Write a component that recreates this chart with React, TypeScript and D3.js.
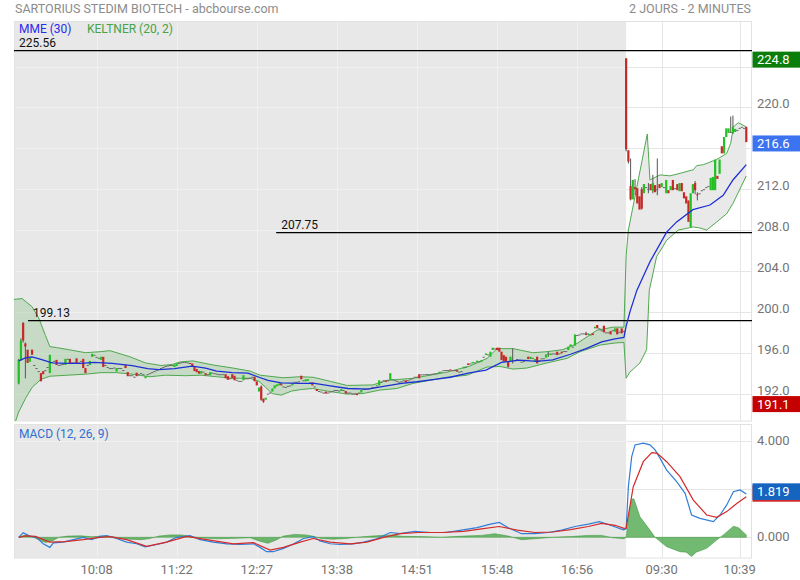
import React from "react";
import * as d3 from "d3";

type Bar = number | number[];

// Day 1 candles: number = doji (o=h=l=c), [o,c] = body only, [o,c,h,l] = body with wicks
const DAY1: Bar[] = [
  [193.0,195.3,195.4,192.9],[195.3,197.2,197.4,195.2],[198.9,197.2,199.0,197.0],[196.9,196.6,197.0,193.5],[196.3,195.0],[195.1,195.6],[196.3,195.8],194.8,194.5,194.2,
  [194.0,193.2],[194.2,193.9],194.3,194.6,[194.0,195.8],195.1,195.2,[195.3,194.8],194.8,194.85,
  194.9,[194.8,195.4],195.4,[195.4,195.0],195.05,195.05,[195.45,195.0],195.05,195.2,[195.4,194.5],
  [194.5,194.0],194.8,[194.8,195.2],[195.6,195.9],195.8,195.6,195.5,[195.3,195.6],[195.6,194.6],194.8,
  194.6,194.5,194.5,194.55,[194.15,194.5],194.5,194.5,194.3,[194.8,194.5],[194.1,193.7],
  193.8,193.8,193.65,[194.05,193.7],193.9,194.0,193.9,[193.5,193.7],193.9,194.0,
  194.1,194.2,194.3,194.4,194.5,194.6,194.7,194.75,194.8,194.8,
  [194.6,194.85],[194.7,194.95],195.0,195.05,195.1,195.1,195.05,[195.0,194.9],[194.95,194.6],[194.6,194.2],
  [194.4,194.1],[194.2,193.95],[193.95,194.2],194.15,[194.0,193.8],193.9,[193.8,194.1],194.05,194.0,193.95,
  193.9,193.9,193.9,[193.9,193.5],[193.7,193.35],193.5,[193.9,193.5],[193.75,193.3],193.35,193.25,
  193.25,[193.3,193.8],193.5,193.5,193.55,193.65,[193.65,193.2],[193.2,192.8],[192.2,192.6],[192.7,191.4,192.8,191.3],
  [191.5,191.2,191.5,191.1],[191.4,191.6],192.0,192.1,[192.2,192.5],[192.5,192.8],[192.7,192.9],[192.8,193.0],[193.0,192.8],192.7,
  192.65,192.75,192.8,[192.8,193.0],193.15,193.15,193.2,[193.75,193.4],193.3,[193.2,193.4],
  [193.25,193.4],193.1,[193.1,192.8],192.7,[192.45,192.25],192.25,192.2,192.1,[192.2,192.0],192.1,
  192.2,192.25,192.35,192.35,192.3,[192.25,192.45],192.35,[192.25,192.0],192.1,192.1,
  192.0,192.0,[192.0,191.85],192.1,[192.1,192.35],192.45,192.5,192.5,192.55,192.65,
  192.65,192.8,[192.8,193.3],193.15,193.3,[193.3,193.15],193.3,[193.3,194.0],193.4,193.32,
  193.25,193.16,193.2,193.3,[193.3,193.1],193.3,193.4,193.5,193.65,193.65,
  [193.9,193.5],193.88,193.88,193.9,193.9,193.9,193.95,193.98,194.0,[193.98,194.14],
  194.14,194.3,194.3,194.3,[194.37,194.25],194.3,194.3,[194.3,194.14],194.14,194.2,
  [194.47,194.63],194.63,[194.95,194.8],194.95,[194.95,195.1],195.05,[195.05,195.22],195.15,[195.12,195.28],195.61,
  [195.77,195.93],195.84,[195.61,196.1],[196.26,196.49],196.42,[196.49,196.26],[196.49,196.1],[196.1,195.28],[195.77,195.12],[195.61,195.12],
  [195.12,194.63,195.12,194.55],[195.18,195.61],[195.3,195.3,196.42,194.95],195.28,195.38,195.28,195.12,195.18,195.3,[195.61,195.38],
  [195.38,195.6],195.5,[195.12,195.38],[195.61,194.95],195.28,195.45,195.45,[195.51,195.84],[195.9,195.9,196.1,195.6],[195.77,195.93],
  195.93,195.93,[196.1,195.77],195.93,[196.1,195.93],196.16,196.16,[196.26,196.59],[196.59,196.81],196.59,
  [196.68,197.79],197.73,197.79,197.89,197.89,[197.9,197.75,198.05,197.7],[197.73,197.89],197.79,[197.89,197.73],[198.38,198.54],
  [198.71,198.38],198.38,198.2,[198.64,197.99],197.99,197.99,[198.12,197.79],198.2,[198.05,198.38],[198.38,197.79],
  198.05,[198.38,197.89],198.12,
];

const DAY2: Bar[] = [
  [224.8,215.9,224.8,215.7],[215.8,214.7,215.8,214.5],[212.3,211.0,215.0,210.9],[211.0,212.9],[212.2,212.0,213.0,211.4],
  [212.1,210.6],[211.3,210.0],[212.0,210.1,212.2,210.0],[211.6,212.5],212.2,
  [212.0,212.0,212.6,211.6],[212.5,211.9],[211.8,212.6,213.4,211.6],[212.4,211.7],[212.0,212.0,215.0,211.4],
  [212.5,212.1],[212.2,212.6],212.2,[211.6,212.9],[211.9,211.6],
  [211.9,212.3],[212.9,211.9],212.1,[212.5,211.9],[211.8,212.6],
  [212.6,211.8],[211.7,211.1],[211.3,210.6],[210.9,208.8],[208.3,211.6],
  [211.6,212.5],[212.6,211.9,212.8,211.5],[211.5,211.4,211.7,210.9],211.6,211.9,
  212.0,212.2,212.3,[211.9,213.1],[211.9,213.2],
  [211.9,214.9],[213.3,213.0],[213.5,214.9],[216.2,215.5],[215.5,217.1],
  [217.1,217.95],[217.5,217.95],[217.6,217.6,219.1,217.5],[217.5,218.1,219.2,217.4],[217.6,217.9],
  217.8,218.0,218.1,218.0,[218.1,216.6],
];

// Indicator lines: [bar index, value]
const MME30: [number, number][] = [
  [0,195.2],[3,195.5],[6,195.6],[10,195.35],[15,195.0],[22,194.95],[28,194.96],[34,195.05],[42,194.96],[51,194.73],
  [58,194.45],[63,194.35],[70,194.45],[78,194.68],[84,194.5],[89,194.2],[96,194.05],[103,194.0],[108,193.6],[112,193.3],
  [118,193.05],[126,193.0],[133,193.0],[140,192.75],[148,192.5],[157,192.44],[164,192.7],[172,193.0],[179,193.16],[187,193.4],
  [194,193.6],[202,194.0],[210,194.3],[217,195.05],[225,195.28],[233,195.15],[240,195.3],[248,195.85],[255,196.4],[262,197.05],
  [268,197.35],[272,197.5],[273,198.6],[274.7,200.0],[277.8,202.1],[283.7,204.9],[291.2,207.8],[295.7,208.8],[303,210.0],
  [310.7,210.45],[316.6,211.4],[321,212.9],[327,214.4],
];

const KELTNER_UP: [number, number][] = [
  [-2.5,201.2],[1.5,201.3],[6,200.5],[9,199.4],[12,197.7],[14,196.6],[17,196.5],[22.5,196.3],[30,196.0],[36.5,196.1],
  [41,196.2],[50,195.6],[57,195.0],[64,194.75],[69,194.85],[72.5,195.1],[78.3,195.2],[87.3,194.8],[96.3,194.5],[104,194.2],
  [108.5,193.8],[118.8,193.55],[126.4,193.65],[132.3,193.6],[140,193.2],[147.6,192.8],[159.2,192.85],[165.5,193.3],[177.2,193.5],
  [192.5,194.1],[202.8,194.7],[210.5,195.45],[215,196.4],[222.2,196.4],[231,196.0],[237.4,196.1],[244.6,196.3],[250.9,196.9],
  [259.9,198.2],[267.1,198.5],[272,198.5],[273,205.5],[274,208.0],[282.5,217.4],[283.7,212.9],[288.2,213.4],[292.7,213.3],
  [297.2,213.55],[303.2,213.9],[304.7,214.3],[307.7,214.4],[313.7,214.9],[318.2,215.5],[320,216.5],[321.2,218.1],[323.4,218.5],[327,218.1],
];

const KELTNER_LO: [number, number][] = [
  [-2.5,188.6],[0,190.2],[3,191.5],[6,192.6],[10,193.4],[14,193.7],[22,193.8],[30,193.9],[37,194.05],[44,194.05],
  [51,193.9],[59,193.65],[66,193.8],[75,193.75],[82,193.8],[89,193.65],[96,193.5],[104,193.5],[108,193.2],[111,192.6],
  [114,192.0],[118,191.85],[122.7,192.25],[127,192.4],[132,192.5],[140,192.2],[147.6,191.95],[154.7,192.0],[162.4,192.35],
  [170,192.5],[177.2,193.0],[184.9,193.3],[192.5,193.6],[201.5,193.8],[206,194.2],[210.5,194.6],[216.3,194.65],[222.2,194.4],
  [228.4,194.5],[237.4,195.0],[246.4,195.45],[252.3,196.1],[261.3,196.75],[268,196.95],[272,197.0],[273,193.5],[274.7,194.1],
  [279.2,195.0],[282.2,196.3],[283.4,202.1],[286.7,205.4],[291.2,207.0],[296.4,208.0],[303.2,208.3],[306.2,208.2],[309.2,208.0],
  [313.7,208.8],[318.2,209.6],[321,210.6],[327,213.3],
];

const MACD_LINE: [number, number][] = [
  [0,0],[2,0.19],[5,0.05],[8,0.0],[11,-0.27],[14,-0.42],[15.6,-0.23],[20,-0.2],[24.6,-0.1],[29,0.0],
  [32.8,-0.1],[36.5,0.04],[39.5,0.07],[44,-0.05],[48.5,-0.2],[53,-0.27],[56.8,-0.4],[62,-0.3],[66.5,-0.2],[71,0],
  [77,0.07],[81.5,-0.1],[87.4,-0.2],[93.5,-0.27],[99.5,-0.3],[105.5,-0.27],[108.5,-0.42],[111.4,-0.6],[114.4,-0.6],[119,-0.46],
  [123,-0.3],[128,-0.05],[132.4,0.03],[135.4,-0.15],[140,-0.27],[144.4,-0.3],[150.4,-0.27],[155,-0.2],[161,-0.06],[167,0.2],
  [171.4,0.15],[178,0.25],[185,0.2],[192,0.2],[199,0.3],[206,0.4],[212,0.55],[216,0.62],[220,0.4],[226,0.15],
  [232,0.15],[238,0.2],[244,0.3],[250,0.45],[256,0.55],[261,0.65],[266,0.5],[271.7,0.31],[273,0.35],[274,2.11],
  [275.5,3.36],[277,3.85],[280.7,3.92],[283.7,3.85],[286,3.64],[288.2,3.3],[291.2,2.8],[295.7,2.32],[299.5,1.83],[302.4,0.93],
  [306.2,0.79],[312.2,0.65],[315.2,0.93],[318.2,1.35],[321.2,1.9],[324.2,1.97],[327,1.8],
];

const MACD_SIGNAL: [number, number][] = [
  [0,0],[3,0.06],[7.5,0.04],[14,-0.2],[21,-0.18],[29,-0.1],[36.5,0],[41,0.03],[48.5,-0.1],[57.5,-0.38],
  [66.5,-0.2],[75.5,0.04],[84.5,-0.1],[96.5,-0.27],[105.5,-0.22],[113,-0.53],[119,-0.42],[126.5,-0.2],[132.4,-0.05],[140,-0.2],
  [149,-0.27],[156.5,-0.2],[164,0],[171.4,0.15],[180,0.2],[190,0.2],[200,0.25],[208,0.35],[216,0.45],[224,0.3],
  [232,0.2],[240,0.22],[248,0.32],[256,0.45],[262,0.58],[268,0.5],[272,0.37],[273,0.38],[276.2,2.11],[280.7,3.15],
  [284.5,3.53],[287,3.5],[291.2,3.15],[297.2,2.53],[303.2,1.55],[309.2,0.93],[313.7,0.83],[318.2,1.07],[322.7,1.41],[327,1.69],
];

const MACD_HIST: [number, number][] = [
  [0,0],[3,0.1],[6,0.02],[9,-0.1],[12,-0.22],[15,-0.15],[18,0],[22,0.05],[28,0.06],[33,0.02],
  [37,0.05],[41,0.04],[45,-0.02],[50,-0.08],[55,-0.1],[59,-0.05],[63,0.05],[68,0.1],[73,0.1],[77,0.04],
  [82,-0.03],[90,-0.06],[98,-0.04],[104,-0.02],[108,-0.15],[112,-0.25],[116,-0.1],[119,0.05],[124,0.12],[129,0.1],
  [132,0.05],[136,-0.05],[141,-0.08],[147,-0.05],[152,0],[157,0.04],[163,0.08],[168,0.1],[172,0.04],[180,0.03],
  [190,0],[200,0.05],[208,0.08],[214,0.15],[220,0.05],[226,-0.1],[232,-0.06],[240,0],[248,0.03],[256,0.08],
  [262,0.08],[267,-0.02],[272,-0.06],[273,0],[274,0.8],[275.5,1.6],[276.5,1.6],[279.2,0.86],[283.7,0.3],[286,0],
  [291.2,-0.39],[297.2,-0.6],[300,-0.62],[302.4,-0.8],[304.5,-0.62],[309.2,-0.46],[313.7,-0.11],[316.7,0.1],[321.2,0.46],[323.5,0.4],[327,0.1],
];

const TIME_LABELS = ["10:08", "11:22", "12:27", "13:38", "14:51", "15:48", "16:56", "09:30", "10:39"];
const TIME_INDEX = [35, 71, 107, 143, 179, 215, 251, 289, 324];

const PRICE_TICKS = [192, 196, 200, 204, 208, 212, 216, 220, 224];
const MACD_TICKS = [0, 2, 4];

const LEVELS = [225.56, 207.75, 199.13];
const LEVEL_START = [-2.2, 115.7, 4.2];

const HIGH_VALUE = 224.8;
const LAST_VALUE = 216.6;
const LOW_VALUE = 191.1;
const MACD_LAST = 1.819;

const TITLE = "SARTORIUS STEDIM BIOTECH - abcbourse.com";
const PERIOD = "2 JOURS - 2 MINUTES";

function toOHLC(d: Bar) {
  if (typeof d === "number") return { o: d, h: d, l: d, c: d };
  const [o, c, h, l] = d;
  return { o, c, h: h ?? Math.max(o, c), l: l ?? Math.min(o, c) };
}

export default function App() {
  const W = 800, H = 580;
  const L = 14, R = 752;
  const mainTop = 21.5, mainBot = 421;
  const macdTop = 424.5, macdBot = 558;

  const bars = [...DAY1, ...DAY2].map(toOHLC);
  const n = bars.length;
  const breakIdx = DAY1.length;

  const x = d3.scaleLinear().domain([0, n - 1]).range([18.7, 746.3]);
  const y = d3.scaleLinear().domain([192, 220]).range([393.6, 107.4]);
  const ym = d3.scaleLinear().domain([0, 4]).range([537.3, 441.3]);

  const xb = x(breakIdx);
  const font = "Roboto, 'Open Sans', sans-serif";

  const lineP = d3.line<[number, number]>().x(d => x(d[0])).y(d => y(d[1]));
  const lineM = d3.line<[number, number]>().x(d => x(d[0])).y(d => ym(d[1]));
  const bandPoly = [...KELTNER_UP, ...[...KELTNER_LO].reverse()];
  const bandPath = lineP(bandPoly as [number, number][]) + "Z";
  const histArea = d3.area<[number, number]>().x(d => x(d[0])).y0(ym(0)).y1(d => ym(d[1]));

  const bw = 2.2;
  const boxH = 16;
  const boxC = (v: number) => y(v) + 1.3;

  // hide tick labels that sit under a value box
  const boxVals = [HIGH_VALUE, LAST_VALUE];
  const priceLabels = PRICE_TICKS.filter(t => boxVals.every(b => Math.abs(y(t) - boxC(b)) > 12));

  return (
    <svg width={W} height={H} style={{ position: "fixed", left: 0, top: 0, background: "#fff" }} fontFamily={font}>
      <defs>
        <clipPath id="clipMain"><rect x={L} y={mainTop} width={R - L} height={mainBot - mainTop} /></clipPath>
        <clipPath id="clipMacd"><rect x={L} y={macdTop} width={R - L} height={macdBot - macdTop} /></clipPath>
        <clipPath id="clipGray"><rect x={L} y={0} width={xb - L} height={H} /></clipPath>
        <clipPath id="clipWhite"><rect x={xb} y={0} width={R - xb} height={H} /></clipPath>
      </defs>
      <rect x={0} y={0} width={W} height={H} fill="#fff" />
      <text x={15} y={13} fontSize={12.5} fill="#8c8c8c">{TITLE}</text>
      <text x={751} y={13} fontSize={12.5} fill="#8c8c8c" textAnchor="end">{PERIOD}</text>

      {/* panel backgrounds */}
      <rect x={L} y={mainTop} width={xb - L} height={mainBot - mainTop} fill="#e8e8e8" />
      <rect x={L} y={macdTop} width={xb - L} height={macdBot - macdTop} fill="#e8e8e8" />

      {/* grid */}
      {[{ clip: "url(#clipGray)", col: "#f0f0f0" }, { clip: "url(#clipWhite)", col: "#e6e6e6" }].map((g, k) => (
        <g key={k} clipPath={g.clip} stroke={g.col} strokeWidth={1}>
          {PRICE_TICKS.map(t => (
            <line key={"p" + t} x1={L} x2={R} y1={Math.round(y(t)) + 0.5} y2={Math.round(y(t)) + 0.5} />
          ))}
          {MACD_TICKS.map(t => (
            <line key={"m" + t} x1={L} x2={R} y1={Math.round(ym(t)) + 0.5} y2={Math.round(ym(t)) + 0.5} />
          ))}
          {TIME_INDEX.map(i => (
            <g key={"v" + i}>
              <line x1={Math.round(x(i)) + 0.5} x2={Math.round(x(i)) + 0.5} y1={mainTop} y2={mainBot} />
              <line x1={Math.round(x(i)) + 0.5} x2={Math.round(x(i)) + 0.5} y1={macdTop} y2={macdBot} />
            </g>
          ))}
        </g>
      ))}

      {/* panel borders */}
      <rect x={L + 0.5} y={mainTop} width={R - L - 1} height={mainBot - mainTop} fill="none" stroke="#e2e2e2" />
      <rect x={L + 0.5} y={macdTop} width={R - L - 1} height={macdBot - macdTop} fill="none" stroke="#e2e2e2" />

      {/* main panel content */}
      <g clipPath="url(#clipMain)">
        <g clipPath="url(#clipGray)">
          <path d={bandPath} fill="rgba(76,170,76,0.22)" stroke="none" />
        </g>
        <g clipPath="url(#clipWhite)">
          <path d={bandPath} fill="#e9e9e9" stroke="none" />
        </g>
        <path d={lineP(KELTNER_UP) || ""} fill="none" stroke="#4fa84f" strokeWidth={1} />
        <path d={lineP(KELTNER_LO) || ""} fill="none" stroke="#4fa84f" strokeWidth={1} />

        {LEVELS.map((v, k) => (
          <g key={"lv" + k}>
            <line x1={Math.max(L, x(LEVEL_START[k]))} x2={R} y1={y(v)} y2={y(v)} stroke="#000" strokeWidth={1.2} />
            <text x={Math.max(L, x(LEVEL_START[k])) + 5} y={y(v) - 4} fontSize={12} fill="#111">{v.toFixed(2)}</text>
          </g>
        ))}

        {bars.map((b, i) => {
          const cx = x(i);
          const up = b.c > b.o, down = b.c < b.o;
          const col = up ? "#22c022" : down ? "#c62828" : "#666";
          const top = y(Math.max(b.o, b.c));
          const hgt = Math.max(1, y(Math.min(b.o, b.c)) - top);
          const hasWick = b.h > Math.max(b.o, b.c) || b.l < Math.min(b.o, b.c);
          return (
            <g key={"c" + i}>
              {hasWick && <line x1={cx} x2={cx} y1={y(b.h)} y2={y(b.l)} stroke="#555" strokeWidth={1} />}
              <rect x={cx - bw / 2} y={top} width={bw} height={hgt} fill={col} />
            </g>
          );
        })}

        <path d={lineP(MME30) || ""} fill="none" stroke="#1f2fd6" strokeWidth={1.3} />
      </g>

      <text x={19} y={33} fontSize={12} fill="#2b2bee">MME (30)</text>
      <text x={87} y={33} fontSize={12} fill="#46a346">KELTNER (20, 2)</text>

      {/* MACD panel content */}
      <g clipPath="url(#clipMacd)">
        <path d={histArea(MACD_HIST) || ""} fill="rgba(60,160,60,0.72)" stroke="rgba(60,150,60,0.9)" strokeWidth={0.6} />
        <path d={lineM(MACD_LINE) || ""} fill="none" stroke="#2f7ed8" strokeWidth={1.2} />
        <path d={lineM(MACD_SIGNAL) || ""} fill="none" stroke="#d42a2a" strokeWidth={1.2} />
      </g>
      <text x={19} y={438} fontSize={12} fill="#2f6fd0">MACD (12, 26, 9)</text>

      {/* right axis labels */}
      {priceLabels.map(t => (
        <text key={"pl" + t} x={757} y={y(t) - 3.5} dy="0.35em" fontSize={13} fill="#747474">{t.toFixed(1)}</text>
      ))}
      {MACD_TICKS.filter(t => Math.abs(ym(t) - ym(MACD_LAST)) > 10).map(t => (
        <text key={"ml" + t} x={757} y={ym(t) - 1} dy="0.35em" fontSize={13} fill="#747474">{t.toFixed(3)}</text>
      ))}

      {/* value boxes */}
      {[
        { v: HIGH_VALUE, col: "#0b7d0b", t: HIGH_VALUE.toFixed(1) },
        { v: LAST_VALUE, col: "#3b73f0", t: LAST_VALUE.toFixed(1) },
        { v: LOW_VALUE, col: "#c40000", t: LOW_VALUE.toFixed(1) },
      ].map((b, k) => (
        <g key={"bx" + k}>
          <rect x={752.5} y={boxC(b.v) - boxH / 2} width={48} height={boxH} fill={b.col} />
          <text x={757} y={boxC(b.v)} dy="0.36em" fontSize={13} fill="#fff">{b.t}</text>
        </g>
      ))}
      <rect x={752.5} y={ym(MACD_LAST) - 2 - 8.3 + 1.8} width={48} height={16.6} fill="#d42a2a" />
      <rect x={752.5} y={ym(MACD_LAST) - 2 - 8.3} width={48} height={16.6} fill="#1565c0" />
      <text x={757} y={ym(MACD_LAST) - 2} dy="0.36em" fontSize={13} fill="#fff">{MACD_LAST.toFixed(3)}</text>

      {/* time axis */}
      {TIME_INDEX.map((i, k) => (
        <text key={"t" + k} x={x(i)} y={569} dy="0.35em" fontSize={13} fill="#747474" textAnchor="middle">{TIME_LABELS[k]}</text>
      ))}
    </svg>
  );
}
